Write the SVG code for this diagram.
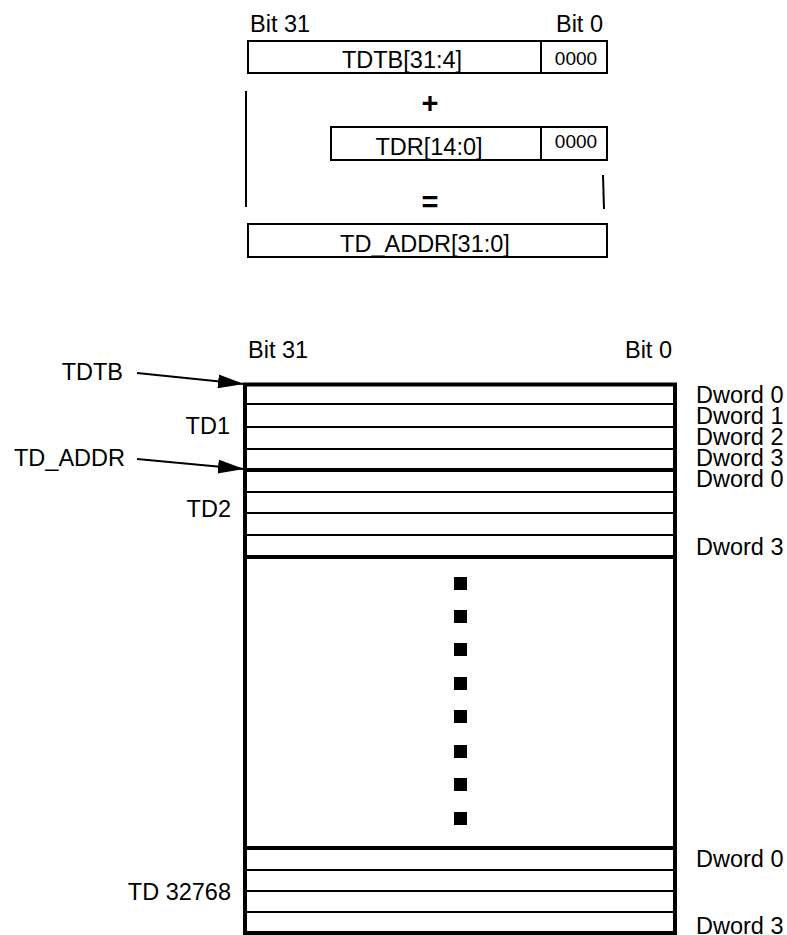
<svg xmlns="http://www.w3.org/2000/svg" width="787" height="935" viewBox="0 0 787 935">
<style>
text{font-family:"Liberation Sans",Arial,sans-serif;font-size:23.5px;fill:#000}
.s{font-size:19px}
.b{font-weight:bold;font-size:29px}
.m{text-anchor:middle}
.e{text-anchor:end}
.box{fill:#fff;stroke:#000;stroke-width:2}
.thin{stroke:#000;stroke-width:2;fill:none}
.thick{stroke:#000;stroke-width:4;fill:none}
</style>
<defs>
<marker id="ah" markerWidth="26" markerHeight="14" refX="26" refY="7" orient="auto" markerUnits="userSpaceOnUse">
<path d="M0,0 L26,7 L0,14 z" fill="#000"/>
</marker>
</defs>
<rect width="787" height="935" fill="#fff"/>

<g id="top-labels">
<text x="250" y="32">Bit 31</text>
<text x="603" y="32" class="e">Bit 0</text>
</g>
<g id="tdtb">
<rect class="box" x="248" y="41" width="359" height="32"/>
<line class="thin" x1="541" y1="41" x2="541" y2="73"/>
<text x="402" y="68" class="m">TDTB[31:4]</text>
<text x="576" y="65" class="m s">0000</text>
</g>
<g id="plus">
<line class="thin" x1="246" y1="91" x2="246" y2="207"/>
<text x="430" y="113" class="m b">+</text>
</g>
<g id="tdr">
<rect class="box" x="331" y="127" width="276" height="33"/>
<line class="thin" x1="541" y1="127" x2="541" y2="160"/>
<text x="429" y="155" class="m">TDR[14:0]</text>
<text x="576" y="148" class="m s">0000</text>
</g>
<g id="equals">
<line class="thin" x1="603" y1="175" x2="604" y2="209"/>
<text x="430" y="212" class="m b">=</text>
</g>
<g id="tdaddr">
<rect class="box" x="248" y="224" width="359" height="33"/>
<text x="425" y="252" class="m">TD_ADDR[31:0]</text>
</g>

<g id="bottom-labels">
<text x="248" y="358">Bit 31</text>
<text x="672" y="358" class="e">Bit 0</text>
</g>

<g id="td-table">
<line class="thick" x1="245" y1="384.5" x2="245" y2="935"/>
<line class="thick" x1="675" y1="384.5" x2="675" y2="935"/>
<line class="thick" x1="243" y1="384.5" x2="677" y2="384.5"/>
<line class="thin" x1="245" y1="404" x2="675" y2="404"/>
<line class="thin" x1="245" y1="427" x2="675" y2="427"/>
<line class="thin" x1="245" y1="449" x2="675" y2="449"/>
<line class="thick" x1="245" y1="470" x2="675" y2="470"/>
<line class="thin" x1="245" y1="492" x2="675" y2="492"/>
<line class="thin" x1="245" y1="513" x2="675" y2="513"/>
<line class="thin" x1="245" y1="535" x2="675" y2="535"/>
<line class="thick" x1="245" y1="557" x2="675" y2="557"/>
<line class="thick" x1="245" y1="848" x2="675" y2="848"/>
<line class="thin" x1="245" y1="870" x2="675" y2="870"/>
<line class="thin" x1="245" y1="891" x2="675" y2="891"/>
<line class="thin" x1="245" y1="912" x2="675" y2="912"/>
<line class="thick" x1="243" y1="933" x2="677" y2="933"/>
</g>

<g id="dots" fill="#000">
<rect x="454" y="577" width="13" height="13"/>
<rect x="454" y="610" width="13" height="13"/>
<rect x="454" y="643" width="13" height="13"/>
<rect x="454" y="677" width="13" height="13"/>
<rect x="454" y="710" width="13" height="13"/>
<rect x="454" y="745" width="13" height="13"/>
<rect x="454" y="778" width="13" height="13"/>
<rect x="454" y="812" width="13" height="13"/>
</g>

<g id="dword-labels">
<text x="696" y="403">Dword 0</text>
<text x="696" y="424">Dword 1</text>
<text x="696" y="445">Dword 2</text>
<text x="696" y="466">Dword 3</text>
<text x="696" y="487">Dword 0</text>
<text x="696" y="555">Dword 3</text>
<text x="696" y="867">Dword 0</text>
<text x="696" y="934">Dword 3</text>
</g>

<g id="td-labels">
<text x="123" y="380" class="e">TDTB</text>
<text x="230" y="434" class="e">TD1</text>
<text x="125" y="466" class="e">TD_ADDR</text>
<text x="231" y="517" class="e">TD2</text>
<text x="231" y="900" class="e">TD 32768</text>
</g>

<g id="connectors">
<line class="thin" x1="137" y1="373" x2="244" y2="384" marker-end="url(#ah)"/>
<line class="thin" x1="137" y1="459" x2="244" y2="469" marker-end="url(#ah)"/>
</g>
</svg>
